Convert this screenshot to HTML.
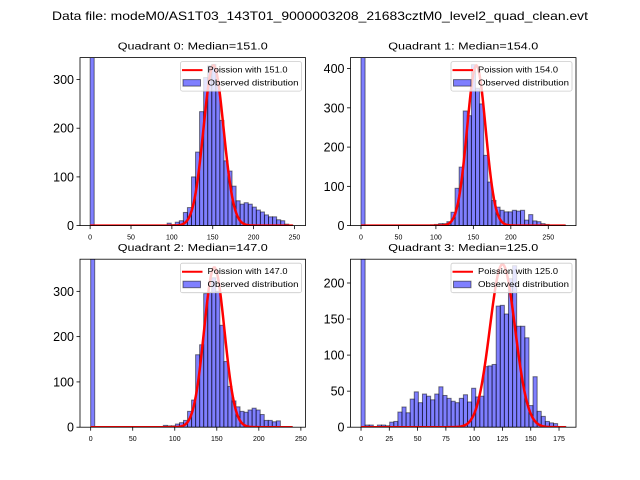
<!DOCTYPE html>
<html><head><meta charset="utf-8"><style>
html,body{margin:0;padding:0;background:#fff;}
svg{display:block;font-family:"Liberation Sans","DejaVu Sans",sans-serif;}
</style></head><body>
<svg id="fig" width="640" height="480" viewBox="0 0 640 480">
<text x="320" y="20" text-anchor="middle" font-size="12" textLength="536" lengthAdjust="spacingAndGlyphs">Data file: modeM0/AS1T03_143T01_9000003208_21683cztM0_level2_quad_clean.evt</text>
</svg>
<script>
// Histogram counts (50 bins from 0 to max) per quadrant
const counts0 = [2000,0,0,0,0,0,0,0,0,0,0,0,0,0,0,0,0,0,0,5,2,7,10,27,37,100,151,234,304,328,331,294,216,133,112,81,51,44,47,44,38,32,28,22,18,18,12,10,3,1];
const counts1 = [2000,0,0,0,0,0,0,0,0,0,0,0,0,0,0,0,0,2,3,5,5,10,34,95,149,292,280,410,350,310,179,111,64,47,39,35,35,39,37,39,14,28,12,10,5,3,0,0,0,1];
const counts2 = [2000,0,0,0,0,0,0,0,0,0,0,0,0,0,0,0,1,0,4,3,3,7,10,15,35,60,160,182,295,298,330,300,225,145,90,58,45,35,33,38,42,38,28,15,15,12,14,0,0,1];
const counts3 = [2000,3,3,0,3,3,2,7,8,21,28,20,39,49,34,46,43,38,46,56,44,40,36,34,40,45,35,54,42,43,84,85,87,168,169,157,206,224,140,140,124,30,70,22,15,8,6,5,1,1];
const maxValues = [248, 273, 240, 181];
const medians = [151.0, 154.0, 147.0, 125.0];
const peakHeights = [329, 408, 353, 226];
const xTicks0 = [0,50,100,150,200,250];
const xTicks3 = [0,25,50,75,100,125,150,175];
const yTicks0 = [0,100,200,300];
const yTicks1 = [0,100,200,300,400];
const yTicks2 = [0,100,200,300];
const yTicks3 = [0,50,100,150,200];
const xLims = [[-12.4,263.5],[-14,287],[-12.7,255.5],[-9.3,190]];
const yMaxes = [345, 428, 371, 233];

const NS = "http://www.w3.org/2000/svg";
const svg = document.getElementById('fig');
function mk(tag, attrs, parent){
  const e = document.createElementNS(NS, tag);
  for (const k in attrs) e.setAttribute(k, attrs[k]);
  (parent||svg).appendChild(e);
  return e;
}
const boxes = [[80,57.6,225.5,168],[350.5,57.6,225.5,168],[80,259.2,225.5,168],[350.5,259.2,225.5,168]];
const allCounts = [counts0, counts1, counts2, counts3];
const allX = [xTicks0, xTicks0, xTicks0, xTicks3];
const allY = [yTicks0, yTicks1, yTicks2, yTicks3];

for (let q=0;q<4;q++){
  const [bx,by,bw,bh] = boxes[q];
  const [x0,x1] = xLims[q];
  const ymax = yMaxes[q];
  const X = v => bx + (v-x0)/(x1-x0)*bw;
  const Y = v => by + bh - v/ymax*bh;
  const g = mk('g',{});
  
  
  const cp = mk('clipPath',{id:'clip'+q}, g);
  mk('rect',{x:bx,y:by,width:bw,height:bh}, cp);
  const plot = mk('g',{'clip-path':'url(#clip'+q+')'}, g);
  const cnt = allCounts[q];
  const w = maxValues[q]/cnt.length;
  cnt.forEach((c,i)=>{
    if (c<=0) return;
    const r = mk('rect',{x:X(i*w),y:Y(c),width:X((i+1)*w)-X(i*w),height:Y(0)-Y(c),fill:'rgba(0,0,255,0.5)',stroke:'rgba(0,0,0,0.5)','stroke-width':1}, plot);
    
    
  });
  const mu = medians[q], A = peakHeights[q];
  let d = '';
  for (let k=0;k<=200;k++){
    const x = k/200*maxValues[q];
    const v = A*Math.exp(-(x-mu)*(x-mu)/(2*mu));
    d += (k?'L':'M')+X(x).toFixed(2)+','+Y(v).toFixed(2);
  }
  const pl = mk('path',{d:d,fill:'none',stroke:'#ff0000','stroke-width':2.5}, plot);
  
  
  const fr = mk('rect',{x:bx,y:by,width:bw,height:bh,fill:'none',stroke:'#000','stroke-width':0.8}, g);
  
  
  allX[q].forEach(t=>{
    mk('line',{x1:X(t),x2:X(t),y1:by+bh,y2:by+bh+3.5,stroke:'#000','stroke-width':0.8}, g);
    const tx = mk('text',{x:X(t),y:by+bh+14,'font-size':7,'text-anchor':'middle'}, g);
    tx.textContent = t;
    
    
  });
  allY[q].forEach(t=>{
    mk('line',{x1:bx-3.5,x2:bx,y1:Y(t),y2:Y(t),stroke:'#000','stroke-width':0.8}, g);
    const tx = mk('text',{x:bx-6,y:Y(t)+4.5,'font-size':12.5,'text-anchor':'end'}, g);
    tx.textContent = t;
    
    
  });
  const ti = mk('text',{x:bx+bw/2,y:by-8,'font-size':10,'text-anchor':'middle',textLength:150,lengthAdjust:'spacingAndGlyphs'}, g);
  ti.textContent = 'Quadrant '+q+': Median='+medians[q].toFixed(1);
  
  
  const lx = bx+bw-125, ly = by+4;
  const lg = mk('g',{}, g);
  
  
  mk('rect',{x:lx,y:ly,width:121,height:29.5,rx:2,fill:'rgba(255,255,255,0.8)',stroke:'#ccc','stroke-width':0.8}, lg);
  mk('line',{x1:lx+1.5,x2:lx+22,y1:ly+8.5,y2:ly+8.5,stroke:'#ff0000','stroke-width':2}, lg);
  const t1 = mk('text',{x:lx+27,y:ly+11,'font-size':8.3,textLength:80,lengthAdjust:'spacingAndGlyphs'}, lg);
  t1.textContent = 'Poission with '+medians[q].toFixed(1);
  
  
  mk('rect',{x:lx+2.5,y:ly+18,width:17.5,height:6.5,fill:'rgba(0,0,255,0.5)',stroke:'rgba(0,0,0,0.5)','stroke-width':1}, lg);
  const t2 = mk('text',{x:lx+27,y:ly+24,'font-size':8.3,textLength:91,lengthAdjust:'spacingAndGlyphs'}, lg);
  t2.textContent = 'Observed distribution';
  
  
}
</script>
</body></html>
